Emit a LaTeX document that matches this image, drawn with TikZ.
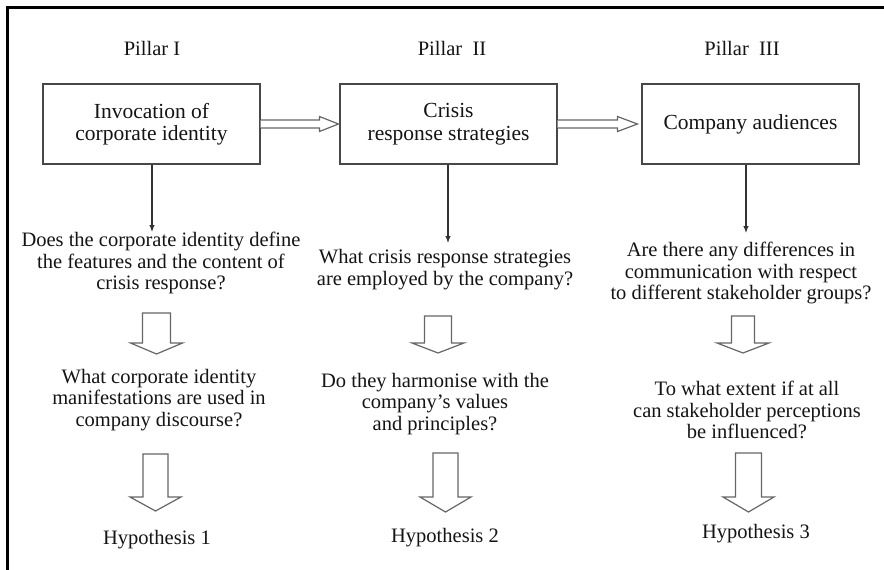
\documentclass[tikz,border=0pt]{standalone}
\usepackage{fontspec}
\setmainfont{Liberation Serif}
\usetikzlibrary{arrows.meta,calc}

% hollow block arrow pointing down: x-centre, top, shaft half-width, shaft length, head half-width, head length
\newcommand\dropArrow[6]{%
  \draw[hollow] (#1-#3,#2) -- (#1-#3,#2+#4) -- (#1-#5,#2+#4) -- (#1,#2+#4+#6)
    -- (#1+#5,#2+#4) -- (#1+#3,#2+#4) -- (#1+#3,#2) -- cycle;}

\begin{document}
\begin{tikzpicture}[x=1pt,y=-1pt,
  txt/.style={font=\fontsize{20.5}{21.5}\selectfont, align=center, inner sep=0pt, text=black!92},
  box/.style={txt, font=\fontsize{21.5}{22.5}\selectfont, draw=black!72, line width=1.1pt,
    minimum width=217pt, minimum height=80pt},
  hollow/.style={draw=black!60, line width=1.2pt, fill=white, line join=miter},
  down/.style={draw=black!80, line width=1.1pt, -{Latex[length=7pt,width=5.5pt]}},
  frame/.style={draw=black, line width=3pt}]

\useasboundingbox (0,0) rectangle (884,570);

% outer frame (top and left edges)
\draw[frame] (7,572) -- (7,7) -- (886,7);

% pillar headings
\node[txt] (p1) at (152,48) {Pillar I};
\node[txt] (p2) at (452,48) {Pillar\ \ II};
\node[txt] (p3) at (742,48) {Pillar\ \ III};

% pillar boxes
\node[box] (b1) at (151.5,124) {Invocation of\\corporate identity};
\node[box] (b2) at (448.5,124) {Crisis\\response strategies};
\node[box] (b3) at (750.5,124) {Company audiences};

% hollow arrows between the boxes
\draw[hollow] ($(b1.east)+(0,-4)$) -- ($(b2.west)+(-20,-4)$) -- ($(b2.west)+(-20,-7.5)$)
  -- ($(b2.west)+(-1,0)$) -- ($(b2.west)+(-20,7.5)$) -- ($(b2.west)+(-20,4)$) -- ($(b1.east)+(0,4)$);
\draw[hollow] ($(b2.east)+(0,-4)$) -- ($(b3.west)+(-24,-4)$) -- ($(b3.west)+(-24,-7.5)$)
  -- ($(b3.west)+(-4,0)$) -- ($(b3.west)+(-24,7.5)$) -- ($(b3.west)+(-24,4)$) -- ($(b2.east)+(0,4)$);

% research questions
\node[txt] (q1a) at (161,263) {Does the corporate identity define\\the features and the content of\\crisis response?};
\node[txt] (q1b) at (159,400) {What corporate identity\\manifestations are used in\\company discourse?};
\node[txt] (h1) at (157,540) {Hypothesis 1};

\node[txt] (q2a) at (445,269.5) {What crisis response strategies\\are employed by the company?};
\node[txt] (q2b) at (435,404) {Do they harmonise with the\\company's values\\and principles?};
\node[txt] (h2) at (445,538) {Hypothesis 2};

\node[txt] (q3a) at (741,273) {Are there any differences in\\communication with respect\\to different stakeholder groups?};
\node[txt] (q3b) at (747,410) {To what extent if at all\\can stakeholder perceptions\\be influenced?};
\node[txt] (h3) at (756,534) {Hypothesis 3};

% thin arrows from the boxes to the first questions
\coordinate (t1) at (152,232);
\coordinate (t2) at (448,243);
\coordinate (t3) at (746,233);
\draw[down] (b1.south -| t1) -- (t1);
\draw[down] (b2.south -| t2) -- (t2);
\draw[down] (b3.south -| t3) -- (t3);

% hollow arrows between the questions
\dropArrow{156.5}{313}{14}{30}{26}{11}
\dropArrow{438}{316}{13.5}{27}{26}{10}
\dropArrow{743}{316}{11.5}{27}{26}{10}

\dropArrow{155.5}{454}{12.5}{43}{25.5}{14}
\dropArrow{445.5}{453}{12.5}{44}{25.5}{15}
\dropArrow{748.5}{453}{13}{44}{25.5}{15}
\end{tikzpicture}
\end{document}
